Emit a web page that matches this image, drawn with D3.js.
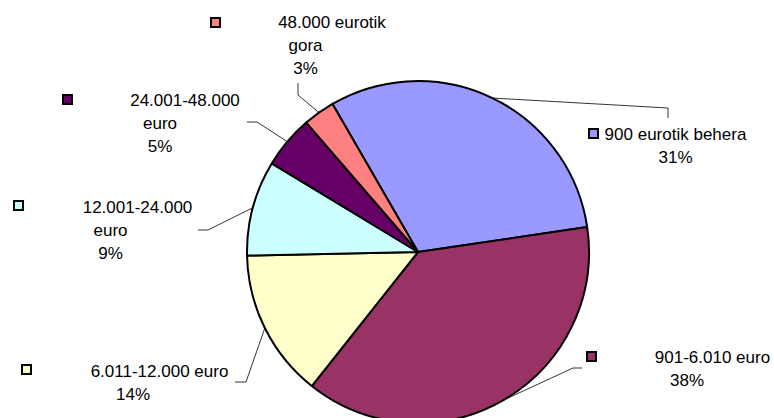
<!DOCTYPE html>
<html>
<head>
<meta charset="utf-8">
<script src="https://cdn.jsdelivr.net/npm/d3@7"></script>
<style>
  body { margin: 0; background: #fff; }
  text { font-family: "Liberation Sans", Arial, sans-serif; font-size: 17px; fill: #000; }
</style>
</head>
<body>
<script>
// Chart data
var categories = ["900 eurotik behera", "901-6.010 euro", "6.011-12.000 euro",
  "12.001-24.000 euro", "24.001-48.000 euro", "48.000 eurotik gora"];
var shares = [31, 38, 14, 9, 5, 3];
var colors = ["#9999FF", "#993366", "#FFFFCC", "#CCFFFF", "#660066", "#FF8080"];

// Label text, wrapped like the original
var labelLines = [
  ["900 eurotik behera", "31%"],
  ["901-6.010 euro", "38%"],
  ["6.011-12.000 euro", "14%"],
  ["12.001-24.000", "euro", "9%"],
  ["24.001-48.000", "euro", "5%"],
  ["48.000 eurotik", "gora", "3%"]
];

// Where each label sits (line centres, baselines, legend key, leader elbow)
var labelLayout = [
  { xs: [675.5, 675.5], y0: 139.5, key: [589, 129], elbow: [[668, 108], [668, 118]] },
  { xs: [712.5, 687], y0: 363, key: [587, 352], elbow: [[573, 368], [582, 368]] },
  { xs: [159.5, 133], y0: 377, key: [22, 365], elbow: [[246, 382], [235, 382]] },
  { xs: [137.5, 110.5, 110.5], y0: 212.5, key: [14, 201], elbow: [[208, 230], [198, 230]] },
  { xs: [185, 160, 160], y0: 106, key: [63, 95], elbow: [[257, 122], [247, 122]] },
  { xs: [332, 305.5, 305.5], y0: 28, key: [211, 18], elbow: [[298, 95], [298, 83]] }
];

var svgWidth = 774;
var svgHeight = 418;
var cx = 418, cy = 252, radius = 171;

var svg = d3.select("body")
  .append("svg")
  .attr("width", svgWidth)
  .attr("height", svgHeight);

var data = categories.map(function(c, i) {
  return { name: c, value: shares[i], color: colors[i], i: i };
});

var pie = d3.pie()
  .sort(null)
  .value(d => d.value)
  .startAngle(-Math.PI / 6)
  .endAngle(2 * Math.PI - Math.PI / 6);

var arcs = pie(data);

var arc = d3.arc().innerRadius(0).outerRadius(radius);
var edgeArc = d3.arc().innerRadius(radius).outerRadius(radius);

var pieGroup = svg.append("g")
  .attr("transform", `translate(${cx}, ${cy})`);

pieGroup.selectAll("path.slice")
  .data(arcs)
  .enter()
  .append("path")
  .attr("class", "slice")
  .attr("d", arc)
  .attr("fill", d => d.data.color)
  .attr("stroke", "#000")
  .attr("stroke-width", 2)
  .attr("stroke-linejoin", "round");

// Leader lines
var line = d3.line();
svg.selectAll("path.leader")
  .data(arcs)
  .enter()
  .append("path")
  .attr("class", "leader")
  .attr("d", function(d) {
    var c = edgeArc.centroid(d);
    var lay = labelLayout[d.data.i];
    return line([[cx + c[0], cy + c[1]], lay.elbow[0], lay.elbow[1]]);
  })
  .attr("fill", "none")
  .attr("stroke", "#000")
  .attr("stroke-width", 0.8);

// Legend keys
svg.selectAll("rect.key")
  .data(data)
  .enter()
  .append("rect")
  .attr("class", "key")
  .attr("x", d => labelLayout[d.i].key[0])
  .attr("y", d => labelLayout[d.i].key[1])
  .attr("width", 9)
  .attr("height", 9)
  .attr("fill", d => d.color)
  .attr("stroke", "#000")
  .attr("stroke-width", 2);

// Labels
data.forEach(function(d) {
  var lay = labelLayout[d.i];
  labelLines[d.i].forEach(function(t, j) {
    svg.append("text")
      .attr("x", lay.xs[j])
      .attr("y", lay.y0 + j * 23)
      .attr("text-anchor", "middle")
      .text(t);
  });
});
</script>
</body>
</html>
